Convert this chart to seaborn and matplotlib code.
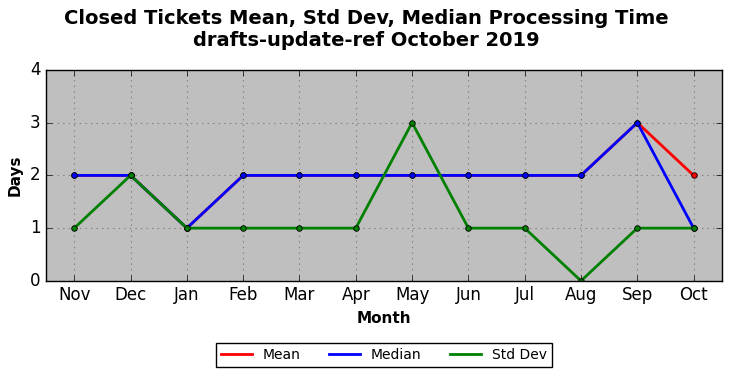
import matplotlib
matplotlib.use("Agg")
import numpy as np
import pandas as pd
import matplotlib.pyplot as plt
import seaborn as sns

months = ["Nov", "Dec", "Jan", "Feb", "Mar", "Apr", "May", "Jun", "Jul", "Aug", "Sep", "Oct"]
mean_days = [2, 2, 1, 2, 2, 2, 2, 2, 2, 2, 3, 2]
median_days = [2, 2, 1, 2, 2, 2, 2, 2, 2, 2, 3, 1]
std_days = [1, 2, 1, 1, 1, 1, 3, 1, 1, 0, 1, 1]

series = [("Mean", mean_days, "red"), ("Median", median_days, "blue"), ("Std Dev", std_days, "green")]

plt.style.use("classic")
plt.rcParams["font.family"] = ["DejaVu Sans"]

fig = plt.figure(figsize=(7.32, 3.78), dpi=100)
ax = fig.add_axes([0.063, 0.257, 0.923, 0.558])
ax.set_facecolor("#bfbfbf")

x = np.arange(len(months))
for name, vals, color in series:
    df = pd.DataFrame({"x": x, "y": vals})
    sns.lineplot(data=df, x="x", y="y", ax=ax, color=color, linewidth=2,
                 marker="o", markersize=4, markeredgecolor="black",
                 markeredgewidth=0.6, label=name)

ax.set_xlim(-0.5, len(months) - 0.5)
ax.set_ylim(0, 4)
ax.set_yticks([0, 1, 2, 3, 4])
ax.set_xticks(x)
ax.set_xticklabels(months)
ax.tick_params(labelsize=12)
ax.grid(True, color="gray", linestyle=":", linewidth=0.8)
ax.set_axisbelow(True)
ax.set_xlabel("Month", fontsize=11, fontweight="bold")
ax.set_ylabel("Days", fontsize=11, fontweight="bold")
fig.suptitle("Closed Tickets Mean, Std Dev, Median Processing Time\ndrafts-update-ref October 2019",
             fontsize=14, fontweight="bold", y=0.975)

ax.legend(loc="upper center", bbox_to_anchor=(0.5, -0.262), ncol=3, fontsize=10,
          frameon=True, fancybox=False, handlelength=2.2, columnspacing=2.05,
          borderpad=0.35, numpoints=1)
leg = ax.get_legend()
for h in leg.get_lines():
    h.set_marker("")

fig.savefig("out.png", dpi=100)
